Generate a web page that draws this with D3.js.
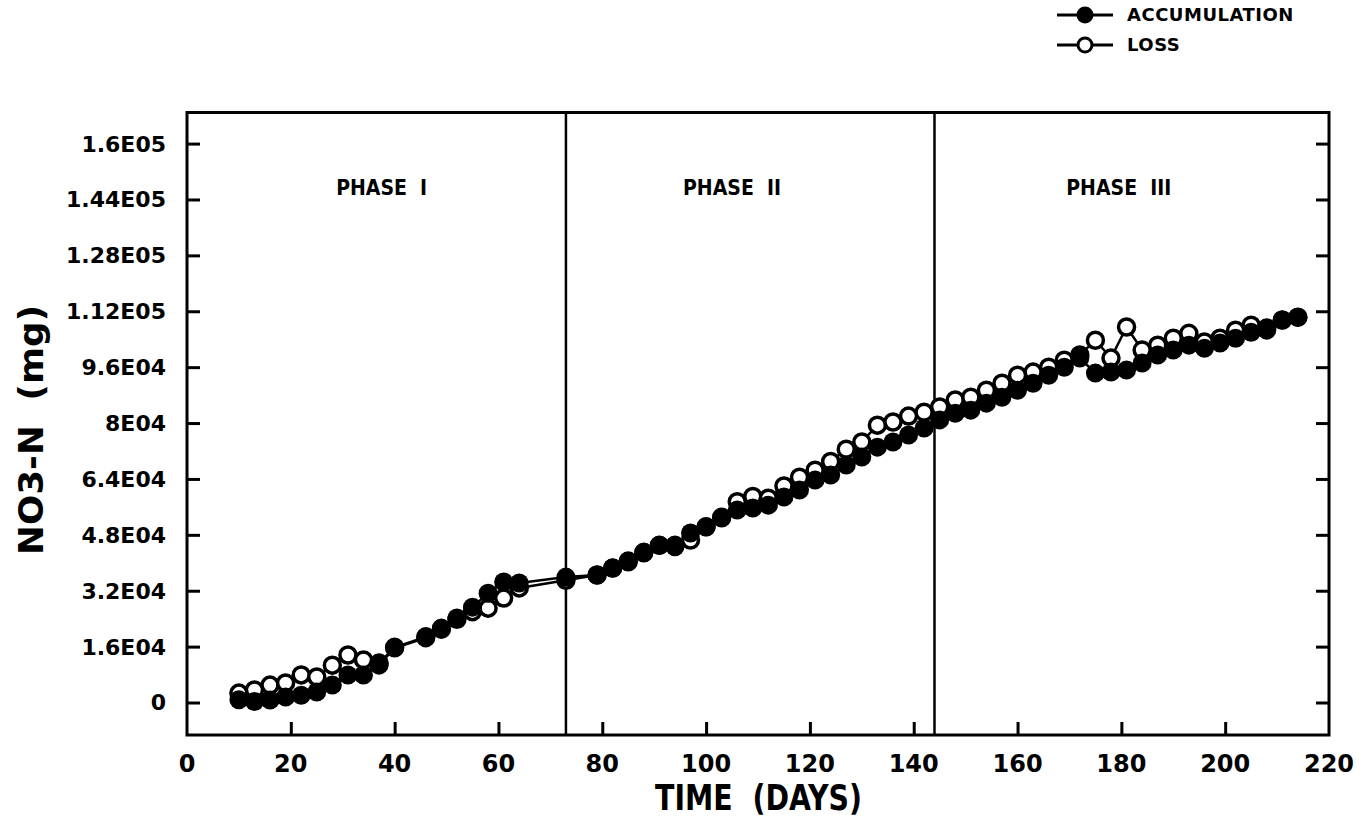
<!DOCTYPE html>
<html>
<head>
<meta charset="utf-8">
<script src="https://cdn.jsdelivr.net/npm/d3@7"></script>
<style>
  body { margin: 0; background: #fff; }
  svg text { fill: #000; }
</style>
</head>
<body>
<div id="chart"></div>
<script>
(function(){
  const width = 1366;
  const height = 817;

  // sampling days (shared by both series)
  const days = [10, 13, 16, 19, 22, 25, 28, 31, 34, 37, 40, 46, 49, 52, 55, 58, 61, 64, 73,
    79, 82, 85, 88, 91, 94, 97, 100, 103, 106, 109, 112, 115, 118, 121, 124, 127, 130, 133, 136, 139, 142,
    145, 148, 151, 154, 157, 160, 163, 166, 169, 172, 175, 178, 181, 184, 187, 190, 193, 196, 199, 202, 205, 208, 211, 214];

  const accumulation = [800, 300, 700, 1600, 2100, 3000, 5000, 7900, 7900, 10700, 15600, 18500, 21300, 24200, 27300, 31300, 34500, 34200, 35900,
    36500, 38500, 40200, 42800, 45000, 44600, 48500, 50300, 52800, 55100, 55700, 56500, 58800, 60800, 63700, 65100, 68000, 70300, 73100, 74600, 76600, 78600,
    80900, 82800, 83700, 85700, 87400, 89400, 91400, 93700, 96000, 98600, 94300, 94600, 95200, 97200, 99500, 100900, 102300, 101400, 102900, 104300, 106000, 106600, 109500, 110300];

  const loss = [2700, 3600, 5000, 5600, 7900, 7300, 10700, 13600, 12200, 11300, 15800, 18800, 21000, 23800, 26000, 27000, 29900, 32800, 35000,
    36500, 38500, 40500, 43000, 45000, 45000, 46500, 50300, 53000, 57500, 59000, 58500, 62000, 64500, 66500, 69000, 72500, 74600, 79400, 80300, 82000, 83100,
    84600, 86600, 87400, 89400, 91400, 93700, 94600, 96000, 98000, 99500, 103700, 98600, 107500, 100900, 102300, 104300, 105700, 103200, 104300, 106600, 108000, 107200, 109500, 110300];

  const xTicks = [0, 20, 40, 60, 80, 100, 120, 140, 160, 180, 200, 220];
  const yTicks = [0, 16000, 32000, 48000, 64000, 80000, 96000, 112000, 128000, 144000, 160000];
  const yTickLabels = ["0", "1.6E04", "3.2E04", "4.8E04", "6.4E04", "8E04", "9.6E04", "1.12E05", "1.28E05", "1.44E05", "1.6E05"];

  const phaseBounds = [73, 144];
  const phaseLabels = ["PHASE  I", "PHASE  II", "PHASE  III"];
  const phaseLabelDays = [37.5, 105, 179.5];

  const left = 187, right = 1329, top = 112.5, bottom = 735;

  const x = d3.scaleLinear().domain([0, 220]).range([left, right]);
  const y = d3.scaleLinear().domain([-9300, 168900]).range([bottom, top]);

  const svg = d3.select("#chart")
    .append("svg")
    .attr("width", width)
    .attr("height", height);

  const numFont = "'DejaVu Sans', sans-serif";
  const narrowFont = "'DejaVu Sans Condensed', 'DejaVu Sans', sans-serif";

  // frame
  svg.append("rect")
    .attr("x", left).attr("y", top)
    .attr("width", right - left).attr("height", bottom - top)
    .attr("fill", "none").attr("stroke", "#000").attr("stroke-width", 3);

  // y ticks both sides, pointing inward
  const yAxisL = d3.axisLeft(y).tickValues(yTicks).tickSize(-13).tickFormat("");
  const yAxisR = d3.axisRight(y).tickValues(yTicks).tickSize(-13).tickFormat("");
  const xAxis = d3.axisBottom(x).tickValues(xTicks.slice(1, -1)).tickSize(-13).tickFormat("");

  const gl = svg.append("g").attr("transform", `translate(${left},0)`).call(yAxisL);
  const gr = svg.append("g").attr("transform", `translate(${right},0)`).call(yAxisR);
  const gb = svg.append("g").attr("transform", `translate(0,${bottom})`).call(xAxis);
  [gl, gr, gb].forEach(g => {
    g.select(".domain").remove();
    g.selectAll("line").attr("stroke", "#000").attr("stroke-width", 3);
  });

  // tick labels
  svg.append("g").selectAll("text")
    .data(yTicks)
    .join("text")
    .attr("x", 166)
    .attr("y", d => y(d))
    .attr("dy", "0.36em")
    .attr("text-anchor", "end")
    .style("font-family", numFont)
    .style("font-weight", "bold")
    .style("font-size", "22px")
    .text((d, i) => yTickLabels[i]);

  svg.append("g").selectAll("text")
    .data(xTicks)
    .join("text")
    .attr("x", d => x(d))
    .attr("y", 772)
    .attr("text-anchor", "middle")
    .style("font-family", numFont)
    .style("font-weight", "bold")
    .style("font-size", "24px")
    .text(d => d);

  // axis titles
  svg.append("text")
    .attr("x", 655)
    .attr("y", 810)
    .attr("textLength", 207)
    .attr("lengthAdjust", "spacingAndGlyphs")
    .attr("xml:space", "preserve")
    .style("font-family", narrowFont)
    .style("font-weight", "bold")
    .style("font-size", "36px")
    .text("TIME  (DAYS)");

  svg.append("text")
    .attr("transform", "translate(43,555) rotate(-90)")
    .attr("textLength", 250)
    .attr("lengthAdjust", "spacingAndGlyphs")
    .attr("xml:space", "preserve")
    .style("font-family", numFont)
    .style("font-weight", "bold")
    .style("font-size", "34px")
    .text("NO3-N  (mg)");

  // phase separators
  svg.append("g").selectAll("line")
    .data(phaseBounds)
    .join("line")
    .attr("x1", d => x(d)).attr("x2", d => x(d))
    .attr("y1", top).attr("y2", bottom)
    .attr("stroke", "#000").attr("stroke-width", 2.5);

  svg.append("g").selectAll("text")
    .data(phaseLabels)
    .join("text")
    .attr("x", (d, i) => x(phaseLabelDays[i]))
    .attr("y", 195)
    .attr("text-anchor", "middle")
    .attr("xml:space", "preserve")
    .style("font-family", narrowFont)
    .style("font-weight", "bold")
    .style("font-size", "21px")
    .text(d => d);

  // series
  const line = d3.line().x(d => x(d[0])).y(d => y(d[1]));
  const lossPts = days.map((d, i) => [d, loss[i]]);
  const accPts = days.map((d, i) => [d, accumulation[i]]);

  svg.append("path").datum(lossPts)
    .attr("d", line).attr("fill", "none").attr("stroke", "#000").attr("stroke-width", 2.5);
  svg.append("g").selectAll("circle")
    .data(lossPts)
    .join("circle")
    .attr("cx", d => x(d[0])).attr("cy", d => y(d[1]))
    .attr("r", 8)
    .attr("fill", "#fff").attr("stroke", "#000").attr("stroke-width", 3.5);

  svg.append("path").datum(accPts)
    .attr("d", line).attr("fill", "none").attr("stroke", "#000").attr("stroke-width", 2.5);
  svg.append("g").selectAll("circle")
    .data(accPts)
    .join("circle")
    .attr("cx", d => x(d[0])).attr("cy", d => y(d[1]))
    .attr("r", 9.5)
    .attr("fill", "#000");

  // legend
  const legendItems = ["ACCUMULATION", "LOSS"];
  const lg = svg.append("g").selectAll("g")
    .data(legendItems)
    .join("g")
    .attr("transform", (d, i) => `translate(0,${15 + i * 30})`);
  lg.append("line")
    .attr("x1", 1057).attr("x2", 1113)
    .attr("stroke", "#000").attr("stroke-width", 3);
  lg.append("circle")
    .attr("cx", 1085).attr("r", (d, i) => i ? 7 : 8.5)
    .attr("fill", (d, i) => i ? "#fff" : "#000")
    .attr("stroke", "#000").attr("stroke-width", (d, i) => i ? 3 : 0);
  lg.append("text")
    .attr("x", 1127).attr("dy", "0.36em")
    .style("font-family", numFont)
    .style("font-weight", "bold")
    .style("font-size", "18px")
    .style("letter-spacing", "0.5px")
    .text(d => d);
})();
</script>
</body>
</html>
